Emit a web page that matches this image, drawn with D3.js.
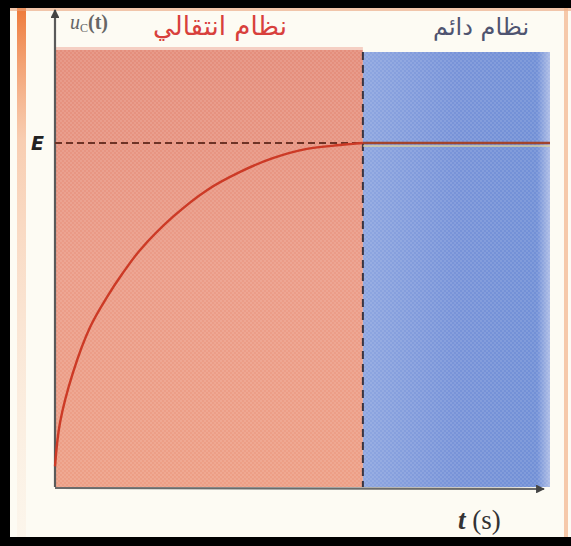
<!DOCTYPE html>
<html><head><meta charset="utf-8">
<script src="https://cdn.jsdelivr.net/npm/d3@7/dist/d3.min.js"></script>
<style>html,body{margin:0;padding:0;background:#000;}svg{display:block;}</style>
</head><body>
<script>
// ---- data (t in arbitrary units, u in fraction of E) ----
const tValues = [0, 1.0, 3.6, 7.1, 10.5, 13.7, 17.2, 23.8, 30.7, 37.4, 44.0, 50.9, 57.6, 62.2];
const uValues = [0.06, 0.186, 0.331, 0.465, 0.552, 0.622, 0.689, 0.785, 0.863, 0.916, 0.956, 0.983, 0.994, 1.0];
const steadyT = [62.2, 100];
const steadyU = [1.0, 1.0];
const regimeBoundary = 62.2;
const regimeLabels = ["نظام انتقالي", "نظام دائم"];
const yTickLabel = "E";
const xLabel = "t (s)";

const W = 571, H = 546;
const svg = d3.select("body").append("svg").attr("width", W).attr("height", H);
const defs = svg.append("defs");

// frame
svg.append("rect").attr("width", W).attr("height", H).attr("fill", "#000");
svg.append("rect").attr("x", 10).attr("y", 8).attr("width", 561).attr("height", 529).attr("fill", "#fdfbf3");
// orange edge stripes
const lg = defs.append("linearGradient").attr("id", "leftStripe").attr("x1", 0).attr("y1", 0).attr("x2", 0).attr("y2", 1);
lg.append("stop").attr("offset", "0").attr("stop-color", "#ee7a3a").attr("stop-opacity", 1);
lg.append("stop").attr("offset", "0.25").attr("stop-color", "#f3a070").attr("stop-opacity", 0.5);
lg.append("stop").attr("offset", "1").attr("stop-color", "#f6d8c0").attr("stop-opacity", 0.15);
svg.append("rect").attr("x", 17).attr("y", 8).attr("width", 9).attr("height", 529).attr("fill", "url(#leftStripe)");
svg.append("rect").attr("x", 10).attr("y", 8).attr("width", 561).attr("height", 3).attr("fill", "#e9a27a").attr("opacity", 0.6);
svg.append("rect").attr("x", 564).attr("y", 8).attr("width", 4).attr("height", 529).attr("fill", "#f2b48a").attr("opacity", 0.7);

// scales
const x = d3.scaleLinear().domain([0, 100]).range([55, 550]);
const y = d3.scaleLinear().domain([0, 1]).range([487, 143]);
const yTop = 50;

// regions
const rg = defs.append("linearGradient").attr("id", "redGrad").attr("x1", 0).attr("y1", 0).attr("x2", 0).attr("y2", 1);
rg.append("stop").attr("offset", "0").attr("stop-color", "#e48e7c");
rg.append("stop").attr("offset", "0.5").attr("stop-color", "#eb9c88");
rg.append("stop").attr("offset", "1").attr("stop-color", "#ed9f86");
const bg = defs.append("linearGradient").attr("id", "blueGrad").attr("x1", 0).attr("y1", 0).attr("x2", 1).attr("y2", 0);
bg.append("stop").attr("offset", "0").attr("stop-color", "#8ea6e0");
bg.append("stop").attr("offset", "0.5").attr("stop-color", "#7893d8");
bg.append("stop").attr("offset", "0.93").attr("stop-color", "#7290d6");
bg.append("stop").attr("offset", "1").attr("stop-color", "#aebde6");
// halftone texture
const pat = defs.append("pattern").attr("id", "dots").attr("width", 4).attr("height", 4).attr("patternUnits", "userSpaceOnUse");
pat.append("circle").attr("cx", 1).attr("cy", 1).attr("r", 0.9).attr("fill", "#ffffff").attr("opacity", 0.15);
pat.append("circle").attr("cx", 3).attr("cy", 3).attr("r", 0.9).attr("fill", "#ffffff").attr("opacity", 0.15);

svg.append("rect").attr("x", x(0)).attr("y", yTop).attr("width", x(regimeBoundary) - x(0)).attr("height", y(0) - yTop).attr("fill", "url(#redGrad)");
svg.append("rect").attr("x", x(regimeBoundary)).attr("y", yTop + 2).attr("width", x(100) - x(regimeBoundary)).attr("height", y(0) - yTop - 2).attr("fill", "url(#blueGrad)");
svg.append("rect").attr("x", x(0)).attr("y", yTop).attr("width", x(100) - x(0)).attr("height", y(0) - yTop).attr("fill", "url(#dots)");
// light band at top of red region
svg.append("rect").attr("x", x(0)).attr("y", 47).attr("width", x(regimeBoundary) - x(0)).attr("height", 3).attr("fill", "#f3c4b6").attr("opacity", 0.8);

// axes
const axisColor = "#5a5a5a";
defs.append("marker").attr("id", "arrow").attr("viewBox", "0 0 10 10").attr("refX", 9).attr("refY", 5)
  .attr("markerWidth", 4).attr("markerHeight", 4).attr("orient", "auto")
  .append("path").attr("d", "M0,0 L10,5 L0,10 z").attr("fill", "#444");
svg.append("line").attr("x1", x(0)).attr("y1", y(0)).attr("x2", x(0)).attr("y2", 10)
  .attr("stroke", axisColor).attr("stroke-width", 2.2).attr("marker-end", "url(#arrow)");
svg.append("line").attr("x1", x(0)).attr("y1", y(0) + 1).attr("x2", 544).attr("y2", y(0) + 2)
  .attr("stroke", "#6b6b6b").attr("stroke-width", 2.2).attr("marker-end", "url(#arrow)");

// dashed E line
svg.append("line").attr("x1", x(0)).attr("y1", y(1)).attr("x2", x(regimeBoundary)).attr("y2", y(1))
  .attr("stroke", "#6e3326").attr("stroke-width", 1.8).attr("stroke-dasharray", "7,4");
// dashed boundary
svg.append("line").attr("x1", x(regimeBoundary)).attr("y1", yTop + 2).attr("x2", x(regimeBoundary)).attr("y2", y(0))
  .attr("stroke", "#3a3440").attr("stroke-width", 2).attr("stroke-dasharray", "8,5");

// curve
const pts = tValues.map((t, i) => [t, uValues[i]]);
const line = d3.line().x(d => x(d[0])).y(d => y(d[1])).curve(d3.curveCatmullRom.alpha(0.5));
svg.append("path").datum(pts).attr("d", line).attr("fill", "none").attr("stroke", "#cc3a26").attr("stroke-width", 2.4);
const sp = steadyT.map((t, i) => [t, steadyU[i]]);
svg.append("path").datum(sp).attr("d", d3.line().x(d => x(d[0])).y(d => y(d[1]) + 3))
  .attr("fill", "none").attr("stroke", "#e8d890").attr("stroke-width", 1.5).attr("opacity", 0.8);
svg.append("path").datum(sp).attr("d", d3.line().x(d => x(d[0])).y(d => y(d[1])))
  .attr("fill", "none").attr("stroke", "#a2442c").attr("stroke-width", 2.4);

// texts
svg.append("text").attr("x", 31).attr("y", 150).attr("font-family", "DejaVu Sans, sans-serif")
  .attr("font-weight", "bold").attr("font-style", "italic").attr("font-size", 19).attr("fill", "#222").text(yTickLabel);

const ut = svg.append("text").attr("x", 70).attr("y", 29).attr("font-family", "Liberation Serif, serif")
  .attr("font-size", 20).attr("fill", "#666");
ut.append("tspan").attr("font-style", "italic").text("u");
ut.append("tspan").attr("font-size", 12).attr("dy", 3).text("C");
ut.append("tspan").attr("dy", -3).attr("font-weight", "bold").text("(t)");

svg.append("text").attr("x", 220).attr("y", 35).attr("text-anchor", "middle")
  .attr("font-family", "DejaVu Sans, sans-serif").attr("font-size", 26).attr("fill", "#d8403c").text(regimeLabels[0]);
svg.append("text").attr("x", 481).attr("y", 35).attr("text-anchor", "middle")
  .attr("font-family", "DejaVu Sans, sans-serif").attr("font-size", 24).attr("fill", "#4f5470").text(regimeLabels[1]);

const xl = svg.append("text").attr("x", 458).attr("y", 529).attr("font-family", "Liberation Serif, serif")
  .attr("font-size", 27).attr("fill", "#333");
xl.append("tspan").attr("font-style", "italic").attr("font-weight", "bold").text(xLabel.split(" ")[0]);
xl.append("tspan").text(" " + xLabel.split(" ")[1]);
</script>
</body></html>
